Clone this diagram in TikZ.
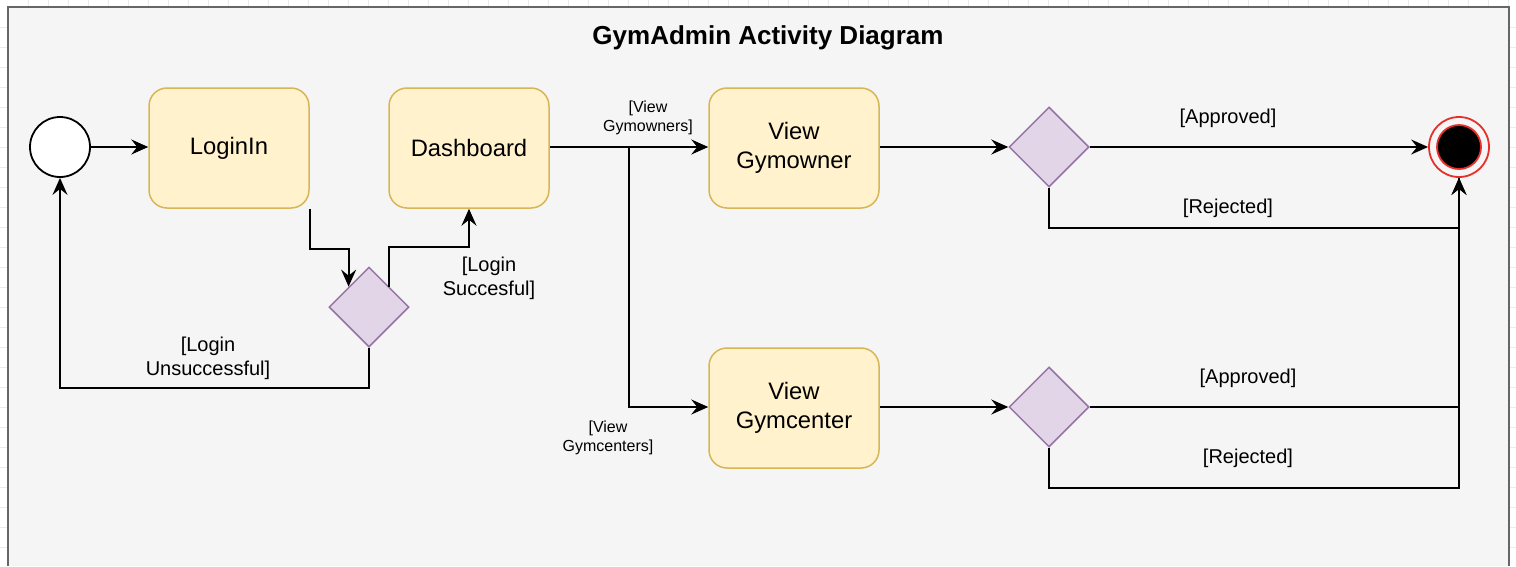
\documentclass[tikz,border=0pt]{standalone}
\usepackage{fontspec}
\setmainfont{Liberation Sans}
\usetikzlibrary{shapes.geometric,arrows.meta}
\definecolor{actfill}{HTML}{FFF2CC}
\definecolor{actline}{HTML}{D6B656}
\definecolor{decfill}{HTML}{E1D5E7}
\definecolor{decline}{HTML}{9673A6}
\definecolor{endred}{HTML}{E8302A}
\definecolor{panel}{HTML}{F5F5F5}
\definecolor{panelline}{HTML}{666666}
\definecolor{gridgray}{HTML}{EBEBEB}
\begin{document}
\begin{tikzpicture}[x=1pt,y=-1pt,
  activity/.style={draw=actline,fill=actfill,line width=1.5pt,rounded corners=18pt,
    minimum width=160pt,minimum height=120pt,align=center,
    font=\fontsize{23.8}{29}\selectfont},
  decision/.style={diamond,draw=decline,fill=decfill,line width=1.5pt,
    minimum size=80pt,inner sep=0pt},
  initial/.style={circle,draw=black,fill=white,line width=1.8pt,minimum size=60pt,inner sep=0pt},
  finalout/.style={circle,draw=endred,fill=panel,line width=1.8pt,minimum size=60pt,inner sep=0pt},
  finalin/.style={circle,draw=endred,fill=black,line width=1.8pt,minimum size=44pt,inner sep=0pt},
  guard/.style={align=center,font=\fontsize{20}{24}\selectfont},
  smallguard/.style={align=center,font=\fontsize{16}{19.5}\selectfont},
  flow/.style={line width=1.8pt,-{Stealth[length=17pt,width=15pt,inset=6pt]}},
  plain/.style={line width=1.8pt}]
\useasboundingbox (0,0) rectangle (1516,566);
% grid round the panel
\foreach \gx in {28,48,...,1508} \draw[gridgray,line width=1pt] (\gx,0) -- (\gx,566);
\foreach \gy in {27,47,...,547} \draw[gridgray,line width=1pt] (0,\gy) -- (1516,\gy);
\fill[panel] (8,7) rectangle (1509,566);
\draw[panelline,line width=2.5pt] (8,566) -- (8,7) -- (1509,7) -- (1509,566);
\node[font=\bfseries\fontsize{26}{30}\selectfont] (title) at (768,38) {GymAdmin Activity Diagram};
% nodes
\node[initial] (start) at (60,147) {};
\node[activity] (login) at (229,148) {LoginIn};
\node[activity] (dash) at (469,148) {Dashboard};
\node[decision] (check) at (369,307) {};
\node[activity,minimum width=170pt] (owner) at (794,148) {View\\Gymowner};
\node[activity,minimum width=170pt] (center) at (794,408) {View\\Gymcenter};
\node[decision] (ownerdec) at (1049,147) {};
\node[decision] (centerdec) at (1049,407) {};
\node[finalout] (final) at (1459,147) {};
\node[finalin] (finaldot) at (final) {};
\coordinate (fork) at (629,147);
% flows
\draw[flow] (start) -- (login.west |- start);
\draw[flow] (login.south east) -- ++(0,40) -| (check.north west);
\draw[flow] (check.north east) -- ++(0,-40) -| (dash.south);
\draw[flow] (check.south) -- ++(0,40) -| (start.south);
\draw[flow] (dash.east |- fork) -- (owner.west |- fork);
\draw[flow] (fork) |- (center.west |- centerdec);
\draw[flow] (owner.east |- ownerdec) -- (ownerdec);
\draw[flow] (center.east |- centerdec) -- (centerdec);
\draw[flow] (ownerdec) -- (final);
\draw[flow] (ownerdec.south) -- ++(0,40) -| (final.south);
\draw[plain] (centerdec.east) -| (final.south);
\draw[flow] (centerdec.south) -- ++(0,40) -| (final.south);
% guards
\node[guard] (succ) at (489,278) {[Login\\Succesful]};
\node[guard] (unsucc) at (208,358) {[Login\\Unsuccessful]};
\node[smallguard] (viewowners) at (648,118) {[View\\Gymowners]};
\node[smallguard] (viewcenters) at (608,438) {[View\\Gymcenters]};
\node[guard] (ownerok) at (1228,118) {[Approved]};
\node[guard] (ownerno) at (1228,208) {[Rejected]};
\node[guard] (centerok) at (1248,378) {[Approved]};
\node[guard] (centerno) at (1248,458) {[Rejected]};
\end{tikzpicture}
\end{document}
